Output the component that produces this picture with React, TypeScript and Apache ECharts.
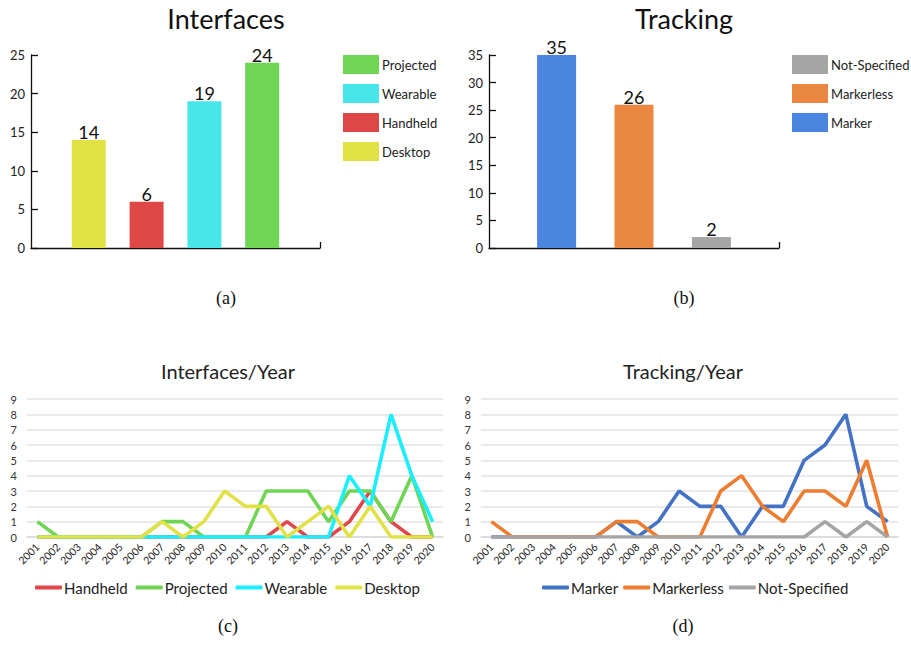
import React, { useEffect, useRef } from "react";
import * as echarts from "echarts";

// ---------- data ----------
const interfaceNames = ["Desktop", "Handheld", "Wearable", "Projected"];
const interfaceTotals = [14, 6, 19, 24];
const interfaceLegendOrder = ["Projected", "Wearable", "Handheld", "Desktop"];

const trackingNames = ["Marker", "Markerless", "Not-Specified"];
const trackingTotals = [35, 26, 2];
const trackingLegendOrder = ["Not-Specified", "Markerless", "Marker"];

const years = [
  "2001", "2002", "2003", "2004", "2005", "2006", "2007", "2008", "2009", "2010",
  "2011", "2012", "2013", "2014", "2015", "2016", "2017", "2018", "2019", "2020",
];
const handheldYear = [0, 0, 0, 0, 0, 0, 0, 0, 0, 0, 0, 0, 1, 0, 0, 1, 3, 1, 0, 0];
const projectedYear = [1, 0, 0, 0, 0, 0, 1, 1, 0, 0, 0, 3, 3, 3, 1, 3, 3, 1, 4, 0];
const wearableYear = [0, 0, 0, 0, 0, 0, 0, 0, 0, 0, 0, 0, 0, 0, 0, 4, 2, 8, 4, 1];
const desktopYear = [0, 0, 0, 0, 0, 0, 1, 0, 1, 3, 2, 2, 0, 1, 2, 0, 2, 0, 0, 0];

const markerYear = [0, 0, 0, 0, 0, 0, 1, 0, 1, 3, 2, 2, 0, 2, 2, 5, 6, 8, 2, 1];
const markerlessYear = [1, 0, 0, 0, 0, 0, 1, 1, 0, 0, 0, 3, 4, 2, 1, 3, 3, 2, 5, 0];
const notSpecifiedYear = [0, 0, 0, 0, 0, 0, 0, 0, 0, 0, 0, 0, 0, 0, 0, 0, 1, 0, 1, 0];

const interfaceTicks = [0, 5, 10, 15, 20, 25];
const trackingTicks = [0, 5, 10, 15, 20, 25, 30, 35];

// ---------- styles ----------
const SANS = "Lato";
const SERIF = "Liberation Serif";
const barColorsA: Record<string, string> = {
  Desktop: "#e1e146",
  Handheld: "#df4646",
  Wearable: "#48e6e8",
  Projected: "#6fd655",
};
const barColorsB: Record<string, string> = {
  Marker: "#4a86e0",
  Markerless: "#ea8842",
  "Not-Specified": "#a6a6a6",
};
const lineColorsC: Record<string, string> = {
  Handheld: "#e0474c",
  Projected: "#70d455",
  Wearable: "#1aeeff",
  Desktop: "#e1e148",
};
const lineColorsD: Record<string, string> = {
  Marker: "#4472c4",
  Markerless: "#ed7d31",
  "Not-Specified": "#a5a5a5",
};

function barOption(
  title: string,
  titleX: number,
  caption: string,
  names: string[],
  totals: number[],
  colors: Record<string, string>,
  legendOrder: string[],
  ticks: number[],
  grid: { left: number; top: number; width: number; height: number },
  pad: number,
  barWidth: number,
  legendLeft: number
) {
  const n = names.length;
  return {
    animation: false,
    title: {
      text: title,
      left: titleX,
      top: 5,
      padding: 0,
      textAlign: "center",
      textStyle: { fontFamily: SANS, fontSize: 27, fontWeight: "normal", color: "#111" },
    },
    grid: { ...grid },
    legend: {
      data: legendOrder,
      orient: "vertical",
      left: legendLeft,
      top: grid.top,
      padding: 0,
      itemWidth: 36,
      itemHeight: 19,
      itemGap: 10,
      icon: "rect",
      textStyle: { fontFamily: SANS, fontSize: 13, color: "#222", padding: [0, 0, 0, -2] },
    },
    xAxis: {
      type: "value",
      min: -pad,
      max: n - 1 + pad,
      axisLine: { show: true, onZero: false, lineStyle: { color: "#111", width: 1.3 } },
      axisTick: { show: true, inside: true, length: 6, customValues: [n - 1 + pad], lineStyle: { color: "#111", width: 1.3 } },
      axisLabel: { show: false },
      splitLine: { show: false },
    },
    yAxis: {
      type: "value",
      min: 0,
      max: ticks[ticks.length - 1],
      interval: ticks[1] - ticks[0],
      axisLine: { show: true, onZero: false, lineStyle: { color: "#111", width: 1.3 } },
      axisTick: { show: true, inside: true, length: 7, lineStyle: { color: "#111", width: 1.3 } },
      axisLabel: { fontFamily: SANS, fontSize: 13, color: "#222", margin: 6 },
      splitLine: { show: false },
    },
    series: names.map((name, i) => ({
      type: "bar",
      name,
      data: [[i, totals[i]]],
      barWidth,
      barGap: "-100%",
      itemStyle: { color: colors[name] },
      label: {
        show: true,
        position: "top",
        distance: -1,
        fontFamily: SANS,
        fontSize: 18,
        color: "#111",
      },
    })),
    graphic: [
      {
        type: "text",
        x: titleX,
        y: 298,
        style: {
          text: caption,
          fontFamily: SERIF,
          fontSize: 18,
          fill: "#111",
          textAlign: "center",
          textVerticalAlign: "middle",
        },
      },
    ],
  };
}

function lineOption(
  title: string,
  titleX: number,
  caption: string,
  seriesNames: string[],
  seriesData: number[][],
  colors: Record<string, string>,
  grid: { left: number; top: number; width: number; height: number },
  legendLeft: number,
  legendGap: number
) {
  return {
    animation: false,
    title: {
      text: title,
      left: titleX,
      top: 361,
      padding: 0,
      textAlign: "center",
      textStyle: { fontFamily: SANS, fontSize: 20, fontWeight: "normal", color: "#222" },
    },
    grid: { ...grid },
    legend: {
      data: seriesNames,
      left: legendLeft,
      top: 580,
      padding: 0,
      icon: "roundRect",
      itemWidth: 27,
      itemHeight: 4,
      itemGap: legendGap,
      textStyle: { fontFamily: SANS, fontSize: 15, color: "#222", padding: [0, 0, 0, -3] },
    },
    xAxis: {
      type: "category",
      data: years,
      boundaryGap: true,
      axisLine: { show: true, lineStyle: { color: "#d9d9d9", width: 1.5 } },
      axisTick: { show: false },
      axisLabel: { rotate: 45, fontFamily: SANS, fontSize: 10.5, color: "#222", margin: 8, interval: 0 },
      splitLine: { show: false },
    },
    yAxis: {
      type: "value",
      min: 0,
      max: 9,
      interval: 1,
      axisLine: { show: false },
      axisTick: { show: false },
      axisLabel: { fontFamily: SANS, fontSize: 11, color: "#333", margin: 10 },
      splitLine: { lineStyle: { color: "#e3e3e3", width: 1.5 } },
    },
    series: seriesNames.map((name, i) => ({
      type: "line",
      name,
      data: seriesData[i],
      symbol: "none",
      lineStyle: { width: 3.6, color: colors[name] },
      itemStyle: { color: colors[name] },
    })),
    graphic: [
      {
        type: "text",
        x: titleX,
        y: 626,
        style: {
          text: caption,
          fontFamily: SERIF,
          fontSize: 18,
          fill: "#111",
          textAlign: "center",
          textVerticalAlign: "middle",
        },
      },
    ],
  };
}

function Chart({ option }: { option: any }) {
  const ref = useRef<HTMLDivElement>(null);
  useEffect(() => {
    if (!ref.current) return;
    const chart = echarts.init(ref.current, undefined, { renderer: "svg" });
    chart.setOption(option);
    return () => chart.dispose();
  }, [option]);
  return (
    <div
      ref={ref}
      style={{ position: "absolute", left: 0, top: 0, width: 911, height: 655 }}
    />
  );
}

const optA = barOption(
  "Interfaces", 226, "(a)", interfaceNames, interfaceTotals, barColorsA, interfaceLegendOrder,
  interfaceTicks, { left: 31, top: 55, width: 289, height: 193 }, 1, 34, 343
);
const optB = barOption(
  "Tracking", 684, "(b)", trackingNames, trackingTotals, barColorsB, trackingLegendOrder,
  trackingTicks, { left: 489, top: 55, width: 290, height: 193 }, 0.873, 39, 792
);
const optC = lineOption(
  "Interfaces/Year", 228, "(c)",
  ["Handheld", "Projected", "Wearable", "Desktop"],
  [handheldYear, projectedYear, wearableYear, desktopYear],
  lineColorsC, { left: 27, top: 399, width: 416, height: 138 }, 35, 8
);
const optD = lineOption(
  "Tracking/Year", 683, "(d)",
  ["Marker", "Markerless", "Not-Specified"],
  [markerYear, markerlessYear, notSpecifiedYear],
  lineColorsD, { left: 481, top: 399, width: 417, height: 138 }, 542, 5
);

export default function App() {
  return (
    <div style={{ position: "fixed", left: 0, top: 0, width: 911, height: 655, background: "#fff" }}>
      <Chart option={optA} />
      <Chart option={optB} />
      <Chart option={optC} />
      <Chart option={optD} />
    </div>
  );
}
